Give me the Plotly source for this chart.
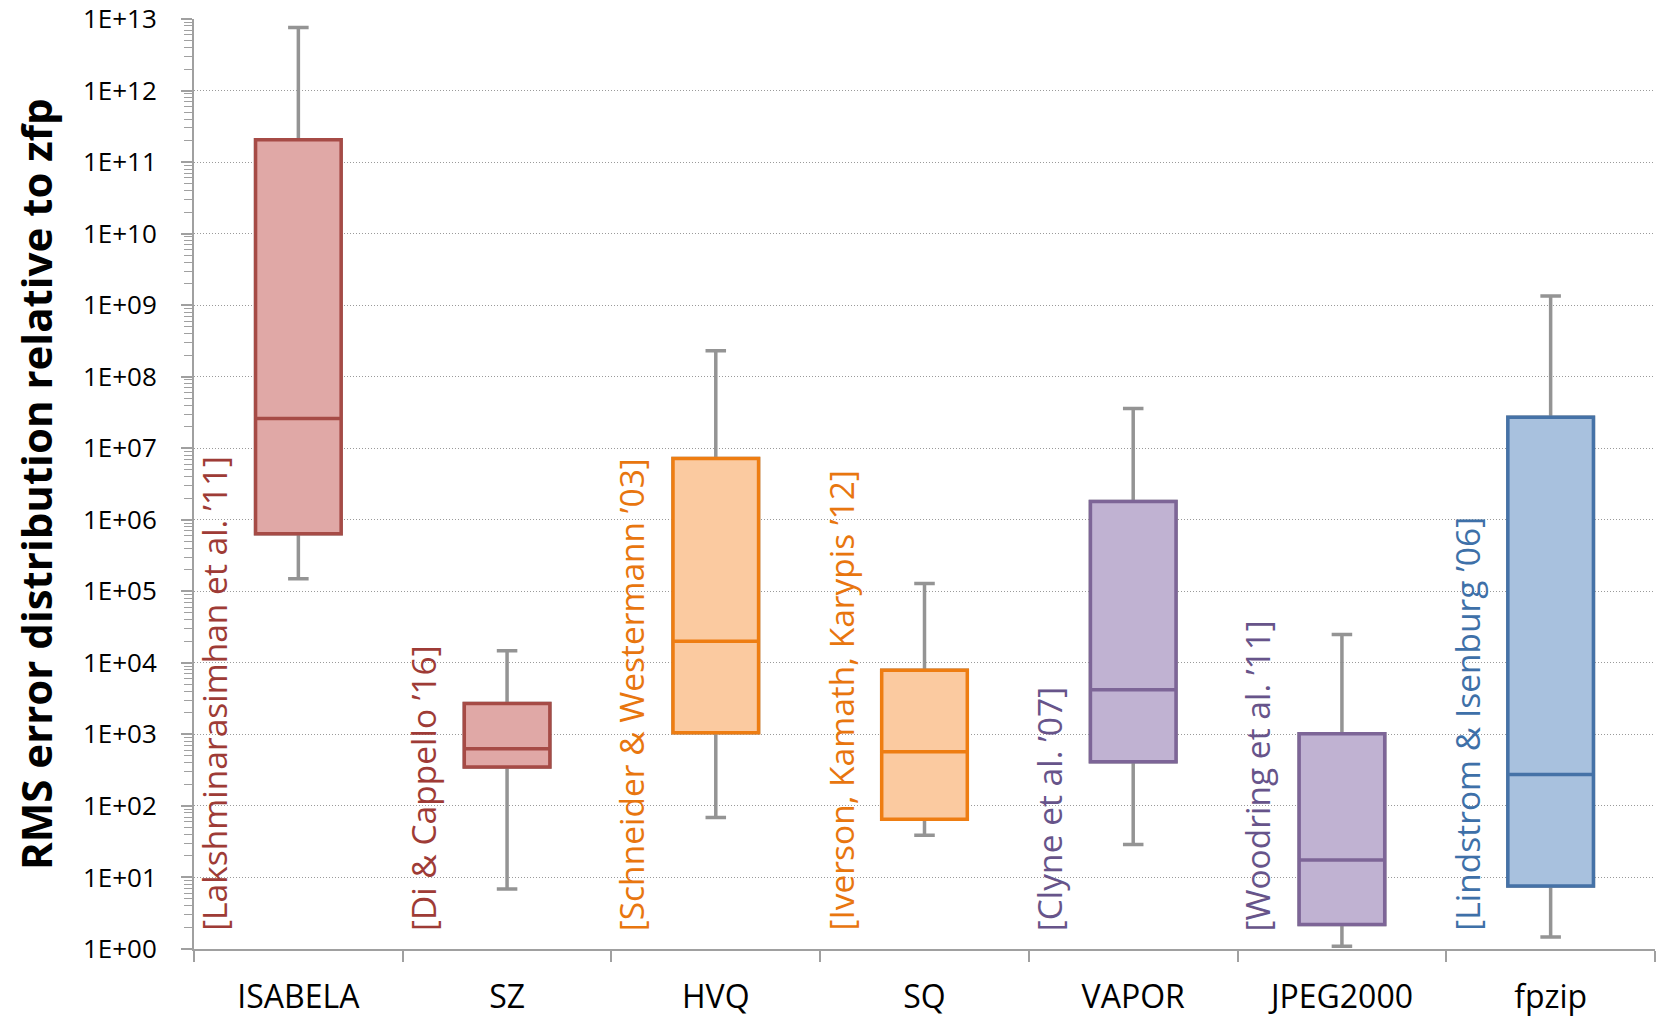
import plotly.graph_objects as go

categories = ["ISABELA", "SZ", "HVQ", "SQ", "VAPOR", "JPEG2000", "fpzip"]
whisker_low = [1.5e5, 6.9, 69, 39, 29, 1.09, 1.47]
box_q1 = [6.4e5, 350, 1.05e3, 65, 415, 2.2, 7.6]
box_median = [2.6e7, 630, 2.0e4, 570, 4.2e3, 17.5, 276]
box_q3 = [2.05e11, 2.7e3, 7.2e6, 7.9e3, 1.8e6, 1.02e3, 2.7e7]
whisker_high = [7.6e12, 1.48e4, 2.3e8, 1.29e5, 3.6e7, 2.5e4, 1.34e9]
references = ["[Lakshminarasimhan et al. ’11]", "[Di & Cappello ’16]",
              "[Schneider & Westermann ’03]", "[Iverson, Kamath, Karypis ’12]",
              "[Clyne et al. ’07]", "[Woodring et al. ’11]", "[Lindstrom & Isenburg ’06]"]
tick_vals = [10 ** k for k in range(0, 14)]
tick_text = ["1E+%02d" % k for k in range(0, 14)]

fills = ["#E0A8A6", "#E0A8A6", "#FBCAA0", "#FBCAA0", "#C0B2D2", "#C0B2D2", "#A8C1DE"]
lines = ["#A64B46", "#A64B46", "#EE7D12", "#EE7D12", "#7D6597", "#7D6597", "#4572A7"]
label_colors = ["#9E3B36", "#9E3B36", "#E8760F", "#E8760F", "#67548A", "#67548A", "#3E70A8"]

FONT = "Open Sans"
fig = go.Figure()

# grey whiskers (drawn underneath)
fig.add_trace(go.Box(
    x=categories, q1=box_q1, median=box_median, q3=box_q3,
    lowerfence=whisker_low, upperfence=whisker_high,
    width=0.41, whiskerwidth=0.24, boxpoints=False,
    line=dict(color="#949494", width=3.5), fillcolor="rgba(0,0,0,0)",
    showlegend=False, hoverinfo="skip"))

for i, c in enumerate(categories):
    fig.add_trace(go.Box(
        x=[c], q1=[box_q1[i]], median=[box_median[i]], q3=[box_q3[i]],
        lowerfence=[box_q1[i]], upperfence=[box_q3[i]],
        width=0.41, whiskerwidth=0, boxpoints=False,
        line=dict(color=lines[i], width=3.5), fillcolor=fills[i],
        showlegend=False))
    fig.add_annotation(x=c, xref="x", y=0, yref="y", text=references[i],
                       textangle=-90, showarrow=False, xanchor="center", yanchor="bottom",
                       xshift=-84, yshift=16,
                       font=dict(family=FONT, size=33.5, color=label_colors[i]))

fig.add_annotation(x=0, xref="paper", y=0.5, yref="paper",
                   text="<b>RMS error distribution relative to zfp</b>",
                   textangle=-90, showarrow=False, xanchor="center", yanchor="middle",
                   xshift=-159, font=dict(family=FONT, size=42, color="black"))

fig.update_layout(
    width=1663, height=1020,
    margin=dict(l=194, r=8, t=19, b=71, autoexpand=False),
    paper_bgcolor="white", plot_bgcolor="white",
    boxmode="overlay", showlegend=False,
    font=dict(family=FONT, color="black"),
)
fig.update_yaxes(
    type="log", range=[-0.0001, 13.0001], automargin=False,
    tickvals=tick_vals, ticktext=tick_text, ticklabeloverflow="allow",
    tickfont=dict(family=FONT, size=26, color="black"),
    ticks="outside", ticklen=11, tickcolor="#A0A0A0", tickwidth=1.5,
    ticklabelstandoff=19,
    showline=True, linecolor="#A0A0A0", linewidth=2,
    showgrid=True, gridcolor="#9A9A9A", griddash="1px,2px", gridwidth=1,
    minor=dict(ticks="outside", ticklen=8, tickcolor="#A0A0A0", tickwidth=1.2,
               dtick="D1", showgrid=False),
    zeroline=False,
)
fig.update_xaxes(
    type="category", range=[-0.5, 6.5], automargin=False,
    tickfont=dict(family=FONT, size=32, color="black"), ticklabeloverflow="allow",
    ticks="outside", ticklen=11, tickcolor="#A0A0A0", tickwidth=1.5,
    tickson="boundaries", ticklabelstandoff=19,
    showline=True, linecolor="#A0A0A0", linewidth=2,
    showgrid=False,
)

fig.write_html("out.html")
